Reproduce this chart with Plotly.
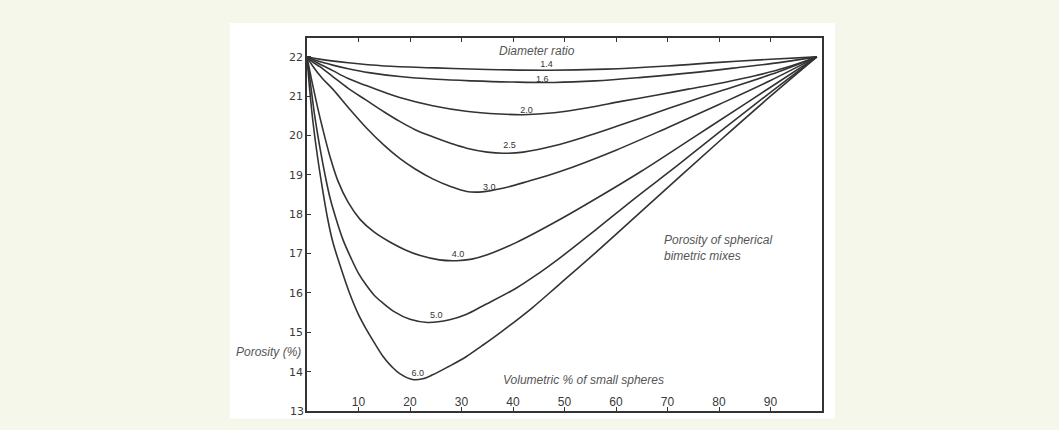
import plotly.graph_objects as go

# Volumetric % of small spheres (x) and porosity % (y) for each diameter ratio
ratio_labels = ["1.4", "1.6", "2.0", "2.5", "3.0", "4.0", "5.0", "6.0"]

x_14 = [0, 3, 8, 15, 25, 35, 47, 58, 70, 80, 90, 99]
y_14 = [22, 21.93, 21.85, 21.77, 21.72, 21.68, 21.66, 21.69, 21.77, 21.86, 21.94, 22]

x_16 = [0, 2, 5, 8, 12, 18, 25, 32, 40, 48, 56, 65, 75, 85, 92, 99]
y_16 = [22, 21.9, 21.79, 21.7, 21.6, 21.5, 21.43, 21.39, 21.36, 21.35, 21.39, 21.48, 21.6, 21.75, 21.86, 22]

x_20 = [0, 2, 5, 8, 11.5, 15, 18, 24.4, 30.9, 37.4, 42, 48, 55, 61, 68, 74, 81, 87, 93, 99]
y_20 = [22, 21.85, 21.65, 21.45, 21.27, 21.1, 20.97, 20.76, 20.62, 20.55, 20.53, 20.58, 20.72,
        20.87, 21.03, 21.18, 21.35, 21.52, 21.73, 22]

x_25 = [0, 1, 2.5, 5, 8, 11.5, 15, 18, 21, 24.4, 28, 31, 35, 38, 42, 48, 54, 60, 70, 80, 90, 99]
y_25 = [22, 21.88, 21.75, 21.5, 21.2, 20.9, 20.6, 20.36, 20.15, 19.97, 19.8, 19.68, 19.58, 19.55,
        19.58, 19.74, 19.97, 20.23, 20.68, 21.12, 21.55, 22]

x_30 = [0, 1.1, 3, 5, 8.3, 11.5, 15, 18, 21, 24.4, 28, 31, 34, 38, 43, 49, 60, 70, 80, 90, 99]
y_30 = [22, 21.77, 21.45, 21.18, 20.67, 20.2, 19.75, 19.42, 19.15, 18.9, 18.7, 18.58, 18.57,
        18.66, 18.84, 19.08, 19.63, 20.2, 20.79, 21.4, 22]

x_40 = [0, 1, 2, 3, 4.5, 6, 8, 10.3, 13, 16, 19, 22, 25.7, 29, 32, 35, 40.6, 49, 56.4, 65, 75, 85, 92, 99]
y_40 = [22, 21.35, 20.75, 20.2, 19.45, 18.85, 18.3, 17.87, 17.55, 17.3, 17.1, 16.95, 16.84, 16.82,
        16.86, 16.97, 17.28, 17.86, 18.42, 19.1, 19.95, 20.8, 21.4, 22]

x_50 = [0, 0.7, 1.5, 2.5, 3.5, 4.5, 5.7, 7, 8.5, 10, 11.5, 13, 14.7, 17, 20, 23.4, 27.7, 31, 34.1,
        40.6, 45, 49, 56, 63.6, 72, 80, 90, 99]
y_50 = [22, 21.3, 20.5, 19.7, 19.0, 18.4, 17.86, 17.35, 16.9, 16.5, 16.2, 15.95, 15.75, 15.52,
        15.33, 15.25, 15.32, 15.46, 15.67, 16.12, 16.5, 16.88, 17.6, 18.4, 19.25, 20.08, 21.1, 22]

x_60 = [0, 0.5, 1.2, 2, 3, 4.05, 5, 6.3, 8.25, 10, 11.5, 13, 14.7, 16.5, 18, 20.5, 22.5, 24.4,
        27.5, 30.9, 34, 37.4, 43.8, 49, 56, 67.5, 80, 90, 99]
y_60 = [22, 21.2, 20.3, 19.5, 18.65, 17.86, 17.3, 16.75, 16.0, 15.45, 15.08, 14.75, 14.4, 14.12,
        13.95, 13.8, 13.82, 13.92, 14.13, 14.38, 14.66, 14.98, 15.63, 16.22, 17.02, 18.38, 19.85, 21.0, 22]

# Where each ratio label sits along its curve
label_x = [46.5, 45.7, 42.6, 39.3, 35.4, 29.3, 25.1, 21.5]
label_y = [21.8, 21.43, 20.62, 19.73, 18.68, 16.97, 15.43, 13.95]

x_ticks = [10, 20, 30, 40, 50, 60, 70, 80, 90]
y_ticks = [13, 14, 15, 16, 17, 18, 19, 20, 21, 22]

curves = [(x_14, y_14), (x_16, y_16), (x_20, y_20), (x_25, y_25),
          (x_30, y_30), (x_40, y_40), (x_50, y_50), (x_60, y_60)]

ink = "#333333"
text_grey = "#555555"
tick_grey = "#3a3a3a"

fig = go.Figure()
for (xs, ys), name in zip(curves, ratio_labels):
    fig.add_trace(go.Scatter(
        x=xs, y=ys, mode="lines", name=name,
        line=dict(color=ink, width=1.6, shape="spline", smoothing=1.0),
        hoverinfo="skip", showlegend=False,
    ))

fig.add_trace(go.Scatter(
    x=label_x, y=label_y, mode="text", text=ratio_labels,
    textfont=dict(family="Liberation Sans", size=9, color=ink),
    textposition="middle center", hoverinfo="skip", showlegend=False,
))

annotations = [
    dict(text="<i>Diameter ratio</i>", x=0.447, y=1.0, xref="paper", yref="paper",
         yanchor="middle", yshift=-13, showarrow=False,
         font=dict(family="Liberation Sans", size=12, color=text_grey)),
    dict(text="<i>Volumetric % of small spheres</i>", x=0.697, y=0.0, xref="paper", yref="paper",
         yanchor="middle", yshift=31, showarrow=False,
         font=dict(family="Liberation Sans", size=12, color=text_grey)),
    dict(text="<i>Porosity of spherical<br>bimetric mixes</i>", x=0.689, y=0.437, xref="paper",
         yref="paper", xanchor="left", yanchor="middle", align="left", showarrow=False,
         font=dict(family="Liberation Sans", size=12, color=text_grey)),
    dict(text="<i>Porosity (%)</i>", x=0, y=14.51, xref="paper", yref="y", xanchor="right",
         xshift=-4, showarrow=False, font=dict(family="Liberation Sans", size=12, color=text_grey)),
    # bottom-left value of the porosity scale
    dict(text="13", x=0, y=13, xref="paper", yref="y", xanchor="right", yanchor="middle",
         xshift=-1, showarrow=False, font=dict(family="DejaVu Sans", size=11, color=tick_grey)),
]

shapes = [
    # white card behind the chart
    dict(type="rect", xref="paper", yref="paper", x0=-0.15, x1=1.025, y0=-0.02, y1=1.04,
         fillcolor="white", line=dict(width=0), layer="below"),
    # break in the porosity axis around its title
    dict(type="rect", xref="x", yref="y", x0=-1.5, x1=0.45, y0=14.29, y1=14.72,
         fillcolor="white", line=dict(width=0), layer="above"),
]

fig.update_layout(
    width=1059, height=430,
    margin=dict(l=307, r=237, t=38, b=17),
    paper_bgcolor="#f4f7ea",
    plot_bgcolor="white",
    annotations=annotations,
    shapes=shapes,
    showlegend=False,
)

fig.update_xaxes(
    range=[0, 100], tickvals=x_ticks, ticktext=[str(v) for v in x_ticks],
    ticks="inside", ticklen=4, tickwidth=1.3, tickcolor=ink,
    ticklabelposition="inside", ticklabelstandoff=-2,
    tickfont=dict(family="Liberation Sans", size=12, color=tick_grey),
    showline=True, linecolor=ink, linewidth=1.5, mirror="ticks",
    showgrid=False, zeroline=False,
)
fig.update_yaxes(
    range=[13, 22.48], tickvals=y_ticks, ticktext=[str(v) for v in y_ticks],
    ticks="inside", ticklen=4, tickwidth=1.3, tickcolor=ink,
    tickfont=dict(family="DejaVu Sans", size=11, color=tick_grey),
    ticklabelstandoff=0,
    showline=True, linecolor=ink, linewidth=1.5, mirror=True,
    showgrid=False, zeroline=False,
)

fig.write_html("out.html")
